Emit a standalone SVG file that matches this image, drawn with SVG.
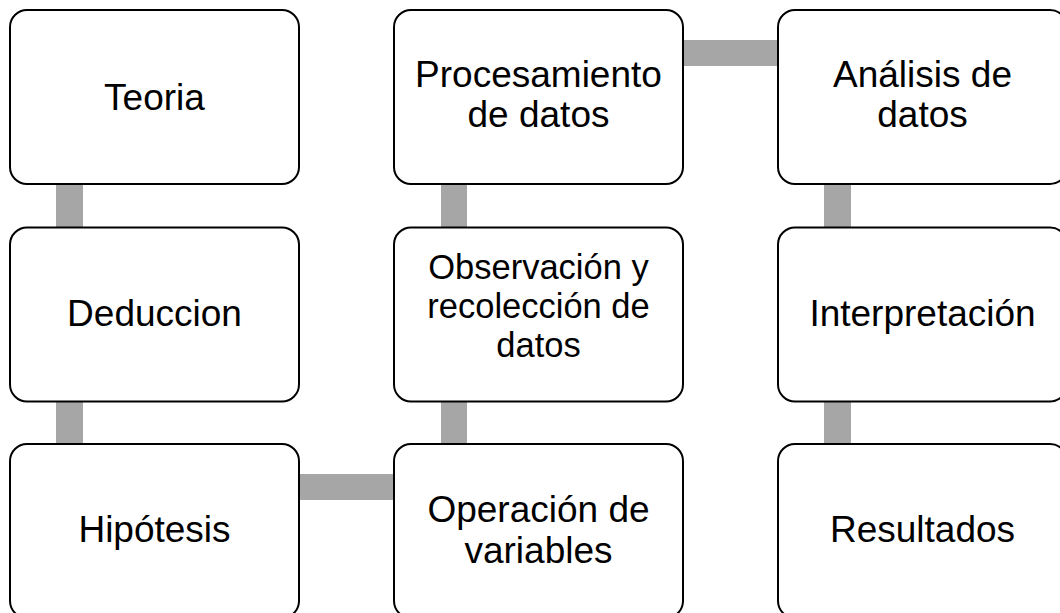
<svg xmlns="http://www.w3.org/2000/svg" width="1060" height="613" viewBox="0 0 1060 613">
<style>
.box{fill:#fff;stroke:#000;stroke-width:2}
.con{fill:#A6A6A6}
.t{font-family:"Liberation Sans",Arial,sans-serif;font-size:37px;fill:#000;text-anchor:middle}
.s{font-size:34.5px}
</style>
<rect width="1060" height="613" fill="#fff"/>
<g id="connectors">
<rect class="con" x="56" y="180" width="27" height="270"/>
<rect class="con" x="441" y="180" width="26" height="270"/>
<rect class="con" x="824" y="180" width="27" height="270"/>
<rect class="con" x="680" y="40" width="102" height="26"/>
<rect class="con" x="296" y="474" width="102" height="26"/>
</g>
<g id="teoria"><rect class="box" x="10" y="10" width="289" height="174" rx="17"/><text class="t" x="154.5" y="109.5">Teoria</text></g>
<g id="deduccion"><rect class="box" x="10" y="227.5" width="289" height="174" rx="17"/><text class="t" x="154.5" y="326">Deduccion</text></g>
<g id="hipotesis"><rect class="box" x="10" y="444" width="289" height="174" rx="17"/><text class="t" x="154.5" y="542">Hipótesis</text></g>
<g id="operacion"><rect class="box" x="394" y="444" width="289" height="174" rx="17"/><text class="t" x="538.5" y="522">Operación de</text><text class="t" x="538.5" y="563">variables</text></g>
<g id="observacion"><rect class="box" x="394" y="227.5" width="289" height="174" rx="17"/><text class="t s" x="538.5" y="278.5">Observación y</text><text class="t s" x="538.5" y="317.5">recolección de</text><text class="t s" x="538.5" y="356.5">datos</text></g>
<g id="procesamiento"><rect class="box" x="394" y="10" width="289" height="174" rx="17"/><text class="t" x="538.5" y="87">Procesamiento</text><text class="t" x="538.5" y="127">de datos</text></g>
<g id="analisis"><rect class="box" x="778" y="10" width="289" height="174" rx="17"/><text class="t" x="922.5" y="87">Análisis de</text><text class="t" x="922.5" y="127">datos</text></g>
<g id="interpretacion"><rect class="box" x="778" y="227.5" width="289" height="174" rx="17"/><text class="t" x="922.5" y="326">Interpretación</text></g>
<g id="resultados"><rect class="box" x="778" y="444" width="289" height="174" rx="17"/><text class="t" x="922.5" y="542">Resultados</text></g>
</svg>
